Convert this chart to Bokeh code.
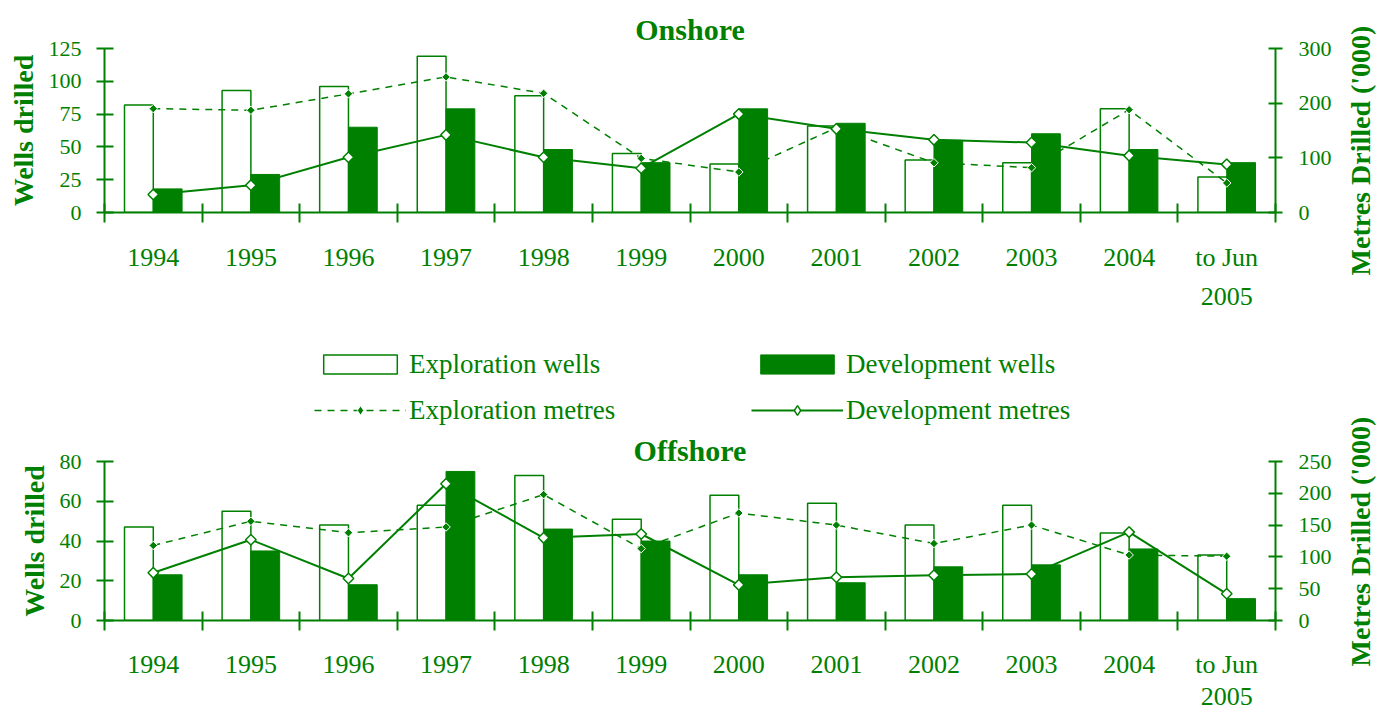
import math
from bokeh.plotting import figure
from bokeh.models import (Range1d, LinearAxis, FixedTicker, Legend, LegendItem,
                          ColumnDataSource, Title)
from bokeh.layouts import column, row
from bokeh.transform import dodge
from bokeh.embed import file_html
from bokeh.resources import INLINE

# ---------------- data ----------------
years = ["1994", "1995", "1996", "1997", "1998", "1999", "2000", "2001",
         "2002", "2003", "2004", "to Jun\n2005"]

on_expl_wells = [82, 93, 96, 119, 89, 45, 37, 66, 40, 38, 79, 27]
on_dev_wells = [18, 29, 65, 79, 48, 38, 79, 68, 55, 60, 48, 38]
on_expl_metres = [190, 187, 217, 248, 218, 99, 74, 155, 91, 82, 188, 54]
on_dev_metres = [33, 50, 101, 142, 101, 81, 180, 153, 133, 128, 104, 88]

off_expl_wells = [47, 55, 48, 58, 73, 51, 63, 59, 48, 58, 44, 33]
off_dev_wells = [23, 35, 18, 75, 46, 40, 23, 19, 27, 28, 36, 11]
off_expl_metres = [118, 156, 138, 147, 198, 113, 169, 150, 121, 150, 103, 101]
off_dev_metres = [75, 127, 66, 215, 130, 136, 56, 68, 71, 73, 139, 42]

on_wells_ticks = [0, 25, 50, 75, 100, 125]
on_metres_ticks = [0, 100, 200, 300]
off_wells_ticks = [0, 20, 40, 60, 80]
off_metres_ticks = [0, 50, 100, 150, 200, 250]

legend_labels = ["Exploration wells", "Exploration metres",
                 "Development wells", "Development metres"]
wells_label = "Wells drilled"
metres_label = "Metres Drilled ('000)"

GREEN = "#008000"
FONT = "Liberation Serif"
BAR_W = 0.295
MAIN_W = 1340
TOTAL_W = 1377
LEFT_B = 104
FRAME_W = 1171
NAN = float("nan")


def bar_style(kind):
    if kind == "expl":
        return dict(fill_color="white", line_color=GREEN, line_width=1.5)
    return dict(fill_color=GREEN, line_color=GREEN, line_width=1)


def line_style(kind):
    if kind == "expl":
        return dict(line_color=GREEN, line_width=1.5, line_dash="7 6")
    return dict(line_color=GREEN, line_width=2)


def marker_style(kind):
    if kind == "expl":
        return dict(marker="square", angle=math.pi / 4, size=6, fill_color=GREEN,
                    line_color="white", line_width=1)
    return dict(marker="square", angle=math.pi / 4, size=7.5, fill_color="white",
                line_color=GREEN, line_width=1.5)


def make_chart(title, ew, dw, em, dm, wticks, mticks, height, b_top, b_bottom,
               title_standoff, label_lh, label_standoff):
    n = len(years)
    centers = [i + 0.5 for i in range(n)]
    bounds = [float(i) for i in range(n + 1)]
    src = ColumnDataSource(dict(x=centers, ew=ew, dw=dw, em=em, dm=dm))

    p = figure(width=MAIN_W, height=height, x_range=Range1d(0, n),
               y_range=Range1d(0, wticks[-1]), output_backend="svg",
               toolbar_location=None, x_axis_type=None, y_axis_type=None,
               min_border_top=b_top, min_border_bottom=b_bottom,
               min_border_left=LEFT_B, min_border_right=MAIN_W - LEFT_B - FRAME_W,
               title=title)
    p.extra_y_ranges = {"m": Range1d(0, mticks[-1])}
    p.outline_line_color = None
    p.background_fill_color = None
    p.border_fill_color = None
    p.title.align = "center"
    p.title.text_font = FONT
    p.title.text_font_size = "30px"
    p.title.text_font_style = "bold"
    p.title.text_color = GREEN
    p.title.standoff = title_standoff

    def style_y(ax, tin, tout, standoff):
        ax.axis_line_color = GREEN
        ax.axis_line_width = 2
        ax.major_tick_line_color = GREEN
        ax.major_tick_line_width = 2
        ax.major_tick_in = tin
        ax.major_tick_out = tout
        ax.minor_tick_line_color = None
        ax.major_label_text_font = FONT
        ax.major_label_text_font_size = "22px"
        ax.major_label_text_color = GREEN
        ax.major_label_standoff = standoff
        ax.axis_label_text_font = FONT
        ax.axis_label_text_font_size = "28px"
        ax.axis_label_text_font_style = "bold"
        ax.axis_label_text_color = GREEN
        ax.axis_label_standoff = 7

    left = LinearAxis(ticker=FixedTicker(ticks=wticks), axis_label=wells_label)
    style_y(left, 9, 8, 15)
    p.add_layout(left, "left")

    right = LinearAxis(y_range_name="m", ticker=FixedTicker(ticks=mticks))
    style_y(right, 7, 7, 16)
    p.add_layout(right, "right")

    xax = LinearAxis(ticker=FixedTicker(ticks=centers, minor_ticks=bounds),
                     major_label_overrides={c: y for c, y in zip(centers, years)})
    xax.axis_line_color = GREEN
    xax.axis_line_width = 2
    xax.major_tick_line_color = None
    xax.major_tick_in = 0
    xax.major_tick_out = 0
    xax.minor_tick_line_color = GREEN
    xax.minor_tick_line_width = 2
    xax.minor_tick_in = 9
    xax.minor_tick_out = 10
    xax.major_label_text_font = FONT
    xax.major_label_text_font_size = "26px"
    xax.major_label_text_color = GREEN
    xax.major_label_text_line_height = label_lh
    xax.major_label_standoff = label_standoff
    p.add_layout(xax, "below")

    p.vbar(x=dodge("x", -BAR_W / 2), top="ew", width=BAR_W, bottom=0,
           source=src, **bar_style("expl"))
    p.vbar(x=dodge("x", BAR_W / 2), top="dw", width=BAR_W, bottom=0,
           source=src, **bar_style("dev"))
    p.line(x="x", y="em", source=src, y_range_name="m", **line_style("expl"))
    p.line(x="x", y="dm", source=src, y_range_name="m", **line_style("dev"))
    p.scatter(x="x", y="em", source=src, y_range_name="m", **marker_style("expl"))
    p.scatter(x="x", y="dm", source=src, y_range_name="m", **marker_style("dev"))
    return p


def side_label(height, b_top, frame_h, size):
    s = figure(width=TOTAL_W - MAIN_W, height=height, output_backend="svg",
               toolbar_location=None, x_axis_type=None, y_axis_type=None,
               min_border_left=35, min_border_right=0,
               min_border_top=b_top, min_border_bottom=height - b_top - frame_h)
    s.outline_line_color = None
    s.background_fill_color = None
    s.border_fill_color = None
    t = Title(text=metres_label, align="center", text_font=FONT,
              text_font_size=size, text_font_style="bold", text_color=GREEN,
              standoff=0)
    s.add_layout(t, "left")
    return s


# ---------------- onshore ----------------
H1 = 330
p1 = make_chart("Onshore", on_expl_wells, on_dev_wells, on_expl_metres,
                on_dev_metres, on_wells_ticks, on_metres_ticks,
                height=H1, b_top=48, b_bottom=H1 - 48 - 164,
                title_standoff=5, label_lh=1.35, label_standoff=20)

# ---------------- legend strip ----------------
HL = 102
pl = figure(width=MAIN_W, height=HL, output_backend="svg", toolbar_location=None,
            x_axis_type=None, y_axis_type=None, min_border=0,
            min_border_left=LEFT_B, min_border_right=MAIN_W - LEFT_B - FRAME_W,
            x_range=Range1d(0, 1), y_range=Range1d(0, 1))
pl.outline_line_color = None
pl.background_fill_color = None
pl.border_fill_color = None
# legend-only renderers (no drawable data)
lg_ew = pl.vbar(x=[NAN], top=[NAN], width=BAR_W, **bar_style("expl"))
lg_dw = pl.vbar(x=[NAN], top=[NAN], width=BAR_W, **bar_style("dev"))
lg_eml = pl.line(x=[NAN, NAN], y=[NAN, NAN], **line_style("expl"))
lg_ems = pl.scatter(x=[NAN], y=[NAN], marker="diamond", size=10, fill_color=GREEN,
                    line_color="white", line_width=1)
lg_dml = pl.line(x=[NAN, NAN], y=[NAN, NAN], **line_style("dev"))
lg_dms = pl.scatter(x=[NAN], y=[NAN], marker="diamond", size=13, fill_color="white",
                    line_color=GREEN, line_width=1.5)


def make_legend(items, loc):
    return Legend(items=items, location=loc, orientation="vertical",
                  glyph_width=92, glyph_height=24, label_standoff=3,
                  label_height=32, spacing=14, padding=0, margin=0,
                  border_line_color=None, background_fill_alpha=0,
                  label_text_font=FONT, label_text_font_size="27px",
                  label_text_color=GREEN)


# legend positions are measured from the strip's frame (left edge at LEFT_B)
legA = make_legend([LegendItem(label=legend_labels[0], renderers=[lg_ew]),
                    LegendItem(label=legend_labels[1], renderers=[lg_eml, lg_ems])],
                   (314 - LEFT_B, 6))
legB = make_legend([LegendItem(label=legend_labels[2], renderers=[lg_dw]),
                    LegendItem(label=legend_labels[3], renderers=[lg_dml, lg_dms])],
                   (751 - LEFT_B, 6))
pl.add_layout(legA, "center")
pl.add_layout(legB, "center")

# ---------------- offshore ----------------
H2 = 713 - H1 - HL
p2 = make_chart("Offshore", off_expl_wells, off_dev_wells, off_expl_metres,
                off_dev_metres, off_wells_ticks, off_metres_ticks,
                height=H2, b_top=29, b_bottom=H2 - 29 - 160,
                title_standoff=-11, label_lh=1.12, label_standoff=19)

# ---------------- right-hand axis titles ----------------
HS1 = 380
s1 = side_label(HS1, 50, 200, "28px")
s2 = side_label(713 - HS1, (H1 + HL + 29) - HS1, 160, "28px")

layout = row(column(p1, pl, p2), column(s1, s2))
open("out.html", "w").write(file_html(layout, INLINE))
